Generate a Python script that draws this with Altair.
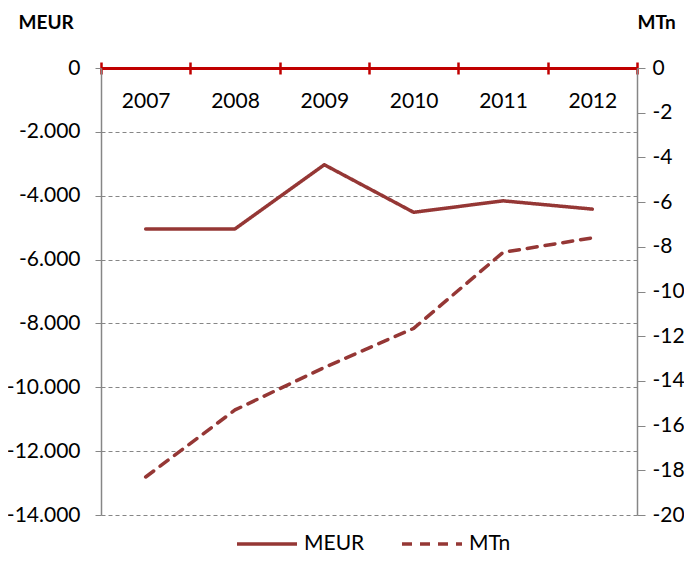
import altair as alt
import pandas as pd

years = ["2007", "2008", "2009", "2010", "2011", "2012"]
meur = [-5040, -5040, -3030, -4520, -4160, -4420]
mtn = [-18.3, -15.3, -13.4, -11.65, -8.25, -7.6]
series = ["MEUR", "MTn"]
left_ticks = [0, -2000, -4000, -6000, -8000, -10000, -12000, -14000]
right_ticks = [0, -2, -4, -6, -8, -10, -12, -14, -16, -18, -20]

df_a = pd.DataFrame({"year": years, "value": meur, "series": "MEUR"})
df_b = pd.DataFrame({"year": years, "value": mtn, "series": "MTn"})

W, H = 536, 447
FONT = "Lato"
RED = "#c00000"
LINE = "#953735"
GRAY = "#868686"

xscale = alt.Scale(type="band", domain=years, paddingInner=0, paddingOuter=0)

legend = alt.Legend(
    title=None, orient="none", legendX=134, legendY=444, direction="horizontal",
    symbolType="stroke", symbolSize=3600, symbolStrokeWidth=3.5,
    labelFont=FONT, labelFontSize=21, labelColor="black", labelOffset=5,
    columnPadding=30,
)
color = alt.Color("series:N", scale=alt.Scale(domain=series, range=[LINE, LINE]), legend=legend)
dash = alt.StrokeDash("series:N", scale=alt.Scale(domain=series, range=[[1, 0], [10, 8]]), legend=legend)

label_common = dict(labelFont=FONT, labelFontSize=21, labelColor="black")

a = alt.Chart(df_a).mark_line(strokeWidth=3.5, strokeJoin="round", strokeCap="round").encode(
    x=alt.X("year:N", scale=xscale, sort=years, bandPosition=0.5,
            axis=alt.Axis(orient="bottom", offset=-H, title=None, domainColor=RED, domainWidth=3,
                          tickColor=RED, tickWidth=2.5, tickSize=6, tickBand="extent",
                          labelPadding=16, labelAngle=0, grid=False, **label_common)),
    y=alt.Y("value:Q", scale=alt.Scale(domain=[-14000, 0], nice=False),
            axis=alt.Axis(orient="left", values=left_ticks,
                          labelExpr="datum.value == 0 ? '0' : '-' + replace(format(abs(datum.value), ',d'), ',', '.')",
                          grid=True, gridDash=[4, 3], gridColor=GRAY, gridWidth=1,
                          domainColor=GRAY, domainWidth=1.5, tickColor=GRAY, tickSize=6, tickWidth=1,
                          labelPadding=15, title="MEUR", titleAngle=0, titleX=-83, titleY=-40,
                          titleAlign="left", titleBaseline="alphabetic", titleFont=FONT,
                          titleFontSize=19, titleFontWeight="bold", titleColor="black",
                          **label_common)),
    color=color,
    strokeDash=dash,
)

b = alt.Chart(df_b).mark_line(strokeWidth=3.5, strokeJoin="round", strokeCap="round").encode(
    x=alt.X("year:N", scale=xscale, sort=years, bandPosition=0.5,
            axis=alt.Axis(orient="top", labels=False, title=None, domainColor=RED, domainWidth=3,
                          tickColor=RED, tickWidth=2.5, tickSize=6, tickBand="extent", grid=False)),
    y=alt.Y("value:Q", scale=alt.Scale(domain=[-20, 0], nice=False),
            axis=alt.Axis(orient="right", values=right_ticks,
                          labelExpr="datum.value == 0 ? '0' : '-' + abs(datum.value)",
                          grid=False, domainColor=GRAY, domainWidth=1.5, tickColor=GRAY, tickSize=8,
                          tickWidth=1, labelPadding=7, title="MTn", titleAngle=0, titleX=0,
                          titleY=-40, titleAlign="left", titleBaseline="alphabetic", titleFont=FONT,
                          titleFontSize=19, titleFontWeight="bold", titleColor="black",
                          **label_common)),
    color=color,
    strokeDash=dash,
)

chart = alt.layer(a, b).resolve_scale(y="independent").resolve_axis(
    x="independent", y="independent"
).properties(
    width=W, height=H,
    padding={"left": 93, "top": 60, "right": 47, "bottom": 39},
    autosize=alt.AutoSizeParams(type="none"),
).configure_view(stroke=None)

chart.save("out.html", embed_options={"renderer": "svg", "actions": False})
